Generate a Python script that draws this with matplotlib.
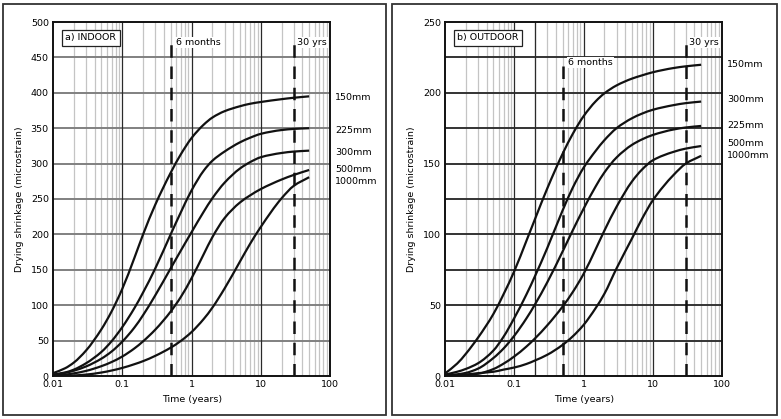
import numpy as np
import matplotlib
matplotlib.use("Agg")
import matplotlib.pyplot as plt
from matplotlib.patches import Rectangle, PathPatch
from matplotlib.path import Path
from matplotlib.ticker import FixedLocator, NullFormatter

# ---------------- data ----------------
t_years = [0.01, 0.015, 0.02, 0.03, 0.05, 0.07, 0.1, 0.15, 0.2, 0.3, 0.5, 0.7,
           1, 1.5, 2, 3, 5, 7, 10, 20, 30, 50]

indoor_labels = ["150mm", "225mm", "300mm", "500mm", "1000mm"]
indoor_150 = [4, 11, 19, 36, 66, 91, 123, 167, 200, 242, 287, 313, 336, 355, 365, 374, 381, 384.5, 387, 391, 393, 395]
indoor_225 = [2, 5, 9, 18, 34, 49, 69, 96, 118, 152, 200, 231, 262, 290, 304, 317, 330, 336.5, 342, 347.4, 349, 350]
indoor_300 = [1.5, 4.5, 7.5, 13.5, 24.5, 34.5, 48.5, 68.5, 86, 114, 152, 177, 203, 232, 251, 273, 293, 302, 309, 315, 317, 318.3]
indoor_500 = [0.6, 2, 3.7, 7.2, 13.9, 19.7, 27.5, 39, 49, 65.5, 91, 111.5, 138, 172, 196, 223, 245, 255, 264, 277.5, 284, 291]
indoor_1000 = [0, 0.4, 0.8, 2, 4.9, 7.7, 11.4, 16.7, 21, 28.5, 40, 49.5, 62, 80.5, 96.5, 123.5, 161.5, 186.5, 210.5, 251, 268.6, 280.8]
indoor_label_y = [393, 347, 316, 292, 275]

outdoor_labels = ["150mm", "300mm", "225mm", "500mm", "1000mm"]
outdoor_150 = [1.8, 8.8, 15.7, 27.1, 43.8, 57.7, 74, 95.5, 111, 132.5, 157, 171, 183.4, 194, 199.6, 205.2, 210, 212.3, 214.5, 217.5, 218.7, 219.8]
outdoor_300 = [1, 3, 5, 9, 18, 27.7, 40.9, 57.6, 70.7, 90.4, 117, 133, 147, 159, 166.5, 175, 182, 185.3, 188, 191.3, 192.7, 193.8]
outdoor_225 = [0.5, 1.2, 2.2, 5.2, 12.7, 19.4, 28.4, 40.7, 50.7, 66.2, 88, 102.9, 118, 133.9, 143.7, 154.3, 163.2, 167.1, 170.2, 174.1, 175.5, 176.6]
outdoor_500 = [0.2, 0.5, 0.8, 1.6, 4.9, 8.7, 13.8, 20.8, 26.6, 35.8, 49.1, 59.3, 72, 89.6, 102.6, 119.5, 137.3, 145.8, 152.3, 158.3, 160.6, 162.4]
outdoor_1000 = [0, 0.5, 1, 2, 3, 4.5, 6, 8.5, 11, 15, 22, 28, 36, 48, 58, 76, 97, 111, 124, 142, 150, 155.5]
outdoor_label_y = [220, 195, 177, 164.5, 156]

x_ticks = [0.01, 0.1, 1, 10, 100]
x_tick_labels = ["0.01", "0.1", "1", "10", "100"]
six_months = 0.5
thirty_yrs = 30

# ---------------- figure ----------------
W, H = 781, 419
fig = plt.figure(figsize=(W / 100, H / 100), dpi=100)
plt.rcParams['font.family'] = ['DejaVu Sans']
FS = 6.8

def px_rect(x0, y0, x1, y1):
    return [x0 / W, 1 - y1 / H, (x1 - x0) / W, (y1 - y0) / H]

# outer boxes
for (a, b, c, d) in [(3, 4, 386, 415), (392, 4, 777, 415)]:
    fig.patches.append(Rectangle((a / W, 1 - d / H), (c - a) / W, (d - b) / H,
                                 transform=fig.transFigure, fill=False,
                                 edgecolor='#333333', linewidth=1.3))

def smooth_path(xs, ys):
    """Monotone cubic Bezier path through the points (in log-x space)."""
    lx = np.log10(np.asarray(xs, float))
    y = np.asarray(ys, float)
    h = np.diff(lx)
    d = np.diff(y) / h
    n = len(lx)
    m = np.zeros(n)
    m[0], m[-1] = d[0], d[-1]
    for i in range(1, n - 1):
        if d[i - 1] * d[i] <= 0:
            m[i] = 0
        else:
            w1 = 2 * h[i] + h[i - 1]
            w2 = h[i] + 2 * h[i - 1]
            m[i] = (w1 + w2) / (w1 / d[i - 1] + w2 / d[i])
    verts = [(xs[0], y[0])]
    codes = [Path.MOVETO]
    for i in range(n - 1):
        c1x = lx[i] + h[i] / 3
        c1y = y[i] + m[i] * h[i] / 3
        c2x = lx[i + 1] - h[i] / 3
        c2y = y[i + 1] - m[i + 1] * h[i] / 3
        verts += [(10 ** c1x, c1y), (10 ** c2x, c2y), (xs[i + 1], y[i + 1])]
        codes += [Path.CURVE4] * 3
    return Path(verts, codes)

def setup_axis(ax, ymax, ystep, hgrid_step, hcolor, major_vx):
    ax.set_xscale('log')
    ax.set_xlim(0.01, 100)
    ax.set_ylim(0, ymax)
    for dec in [0.01, 0.1, 1, 10]:
        for k in range(2, 10):
            ax.axvline(dec * k, color='#c4c4c4', lw=0.9, zorder=1)
    for v in major_vx:
        ax.axvline(v, color='#2a2a2a', lw=0.9, zorder=1.5)
    for yv in np.arange(hgrid_step, ymax, hgrid_step):
        ax.axhline(yv, color=hcolor, lw=1.4, zorder=1.2)
    ax.set_xticks(x_ticks)
    ax.set_xticklabels(x_tick_labels, fontsize=FS)
    ax.xaxis.set_minor_locator(FixedLocator([]))
    ax.xaxis.set_minor_formatter(NullFormatter())
    ax.set_yticks(np.arange(0, ymax + 1, ystep))
    ax.set_yticklabels([str(int(v)) for v in np.arange(0, ymax + 1, ystep)], fontsize=FS)
    ax.tick_params(axis='both', length=0, pad=3)
    for s in ax.spines.values():
        s.set_linewidth(1.4)
        s.set_color('#111111')
        s.set_zorder(5)

def draw_panel(ax, series, labels, label_y, dash_top6, dash_top30, six_y, thirty_y, title):
    for vals in series:
        ax.add_patch(PathPatch(smooth_path(t_years, vals), fill=False,
                               edgecolor='#111111', lw=1.6, zorder=4))
    ax.plot([six_months, six_months], [0, dash_top6], color='#111111', lw=1.8,
            dashes=(5, 3.5), zorder=4)
    ax.plot([thirty_yrs, thirty_yrs], [0, dash_top30], color='#111111', lw=1.8,
            dashes=(5, 3.5), zorder=4)
    ax.text(0.6, six_y, "6 months", fontsize=FS, ha='left', va='center', zorder=6,
            bbox=dict(facecolor='white', edgecolor='none', pad=0.6))
    ax.text(33.5, thirty_y, "30 yrs", fontsize=FS, ha='left', va='center', zorder=6,
            bbox=dict(facecolor='white', edgecolor='none', pad=0.6))
    for lab, yv in zip(labels, label_y):
        ax.text(1.018, yv, lab, transform=ax.get_yaxis_transform(), fontsize=FS,
                ha='left', va='center', clip_on=False)
    ax.text(0.045, 0.955, title, transform=ax.transAxes, fontsize=FS, ha='left', va='center',
            zorder=6, bbox=dict(facecolor='white', edgecolor='#222222', linewidth=0.9,
                                boxstyle='square,pad=0.35'))

# left panel
axL = fig.add_axes(px_rect(53, 22, 330, 376))
setup_axis(axL, 500, 50, 50, '#808080', [0.1, 1, 10])
draw_panel(axL, [indoor_150, indoor_225, indoor_300, indoor_500, indoor_1000],
           indoor_labels, indoor_label_y, 480, 480, 471, 471, "a) INDOOR")

# right panel
axR = fig.add_axes(px_rect(445, 22, 722, 376))
setup_axis(axR, 250, 50, 25, '#333333', [0.1, 0.2, 1, 10])
draw_panel(axR, [outdoor_150, outdoor_300, outdoor_225, outdoor_500, outdoor_1000],
           outdoor_labels, outdoor_label_y, 221, 236, 221.5, 235.5, "b) OUTDOOR")

# axis labels
for xc, xl in [(20, 192), (412, 584)]:
    fig.text(xc / W, 1 - 199 / H, "Drying shrinkage (microstrain)", rotation=90,
             fontsize=FS, ha='center', va='center')
    fig.text(xl / W, 1 - 399 / H, "Time (years)", fontsize=FS, ha='center', va='center')

fig.savefig("out.png", dpi=100, facecolor='white')
